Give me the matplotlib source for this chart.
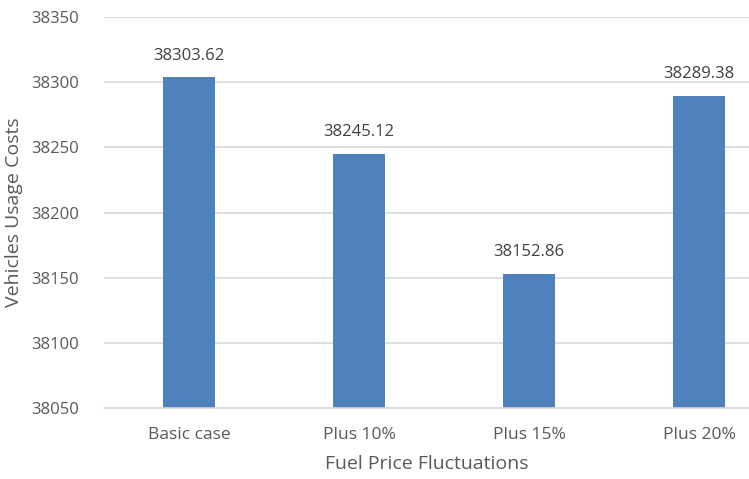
import matplotlib
matplotlib.use("Agg")
import matplotlib.pyplot as plt

categories = ["Basic case", "Plus 10%", "Plus 15%", "Plus 20%"]
costs = [38303.62, 38245.12, 38152.86, 38289.38]
y_ticks = [38050, 38100, 38150, 38200, 38250, 38300, 38350]

BAR = "#4F81BD"
TEXT = "#595959"
GRID = "#D9D9D9"

plt.rcParams["font.family"] = ["Open Sans", "DejaVu Sans"]

fig = plt.figure(figsize=(7.49, 4.79), dpi=100)
ax = fig.add_axes([0.1389, 0.1482, 0.8611, 0.8163])

x = list(range(len(categories)))
ax.bar(x, costs, width=0.31, color=BAR, zorder=3)
ax.set_ylim(y_ticks[0], y_ticks[-1])
ax.set_xlim(-0.5, 3.294)

ax.set_yticks(y_ticks)
ax.set_yticklabels([str(t) for t in y_ticks])
ax.set_xticks(x)
ax.set_xticklabels(categories)

ax.grid(axis="y", color=GRID, linewidth=1.2, zorder=0)
for side in ("top", "right", "left"):
    ax.spines[side].set_visible(False)
ax.spines["bottom"].set_color(GRID)
ax.spines["bottom"].set_linewidth(1.2)
ax.spines["bottom"].set_zorder(4)

ax.tick_params(axis="both", length=0, labelsize=12, labelcolor=TEXT)
ax.tick_params(axis="x", labelsize=12.5, pad=14)
ax.tick_params(axis="y", pad=18)

for xi, v in zip(x, costs):
    ax.annotate(f"{v:.2f}", (xi, v), xytext=(0, 10), textcoords="offset points",
                ha="center", va="bottom", fontsize=12, color="#404040")

ax.set_xlabel("Fuel Price Fluctuations", fontsize=14, color=TEXT, labelpad=8)
ax.set_ylabel("Vehicles Usage Costs", fontsize=14, color=TEXT, labelpad=6)

fig.savefig("out.png", dpi=100)
